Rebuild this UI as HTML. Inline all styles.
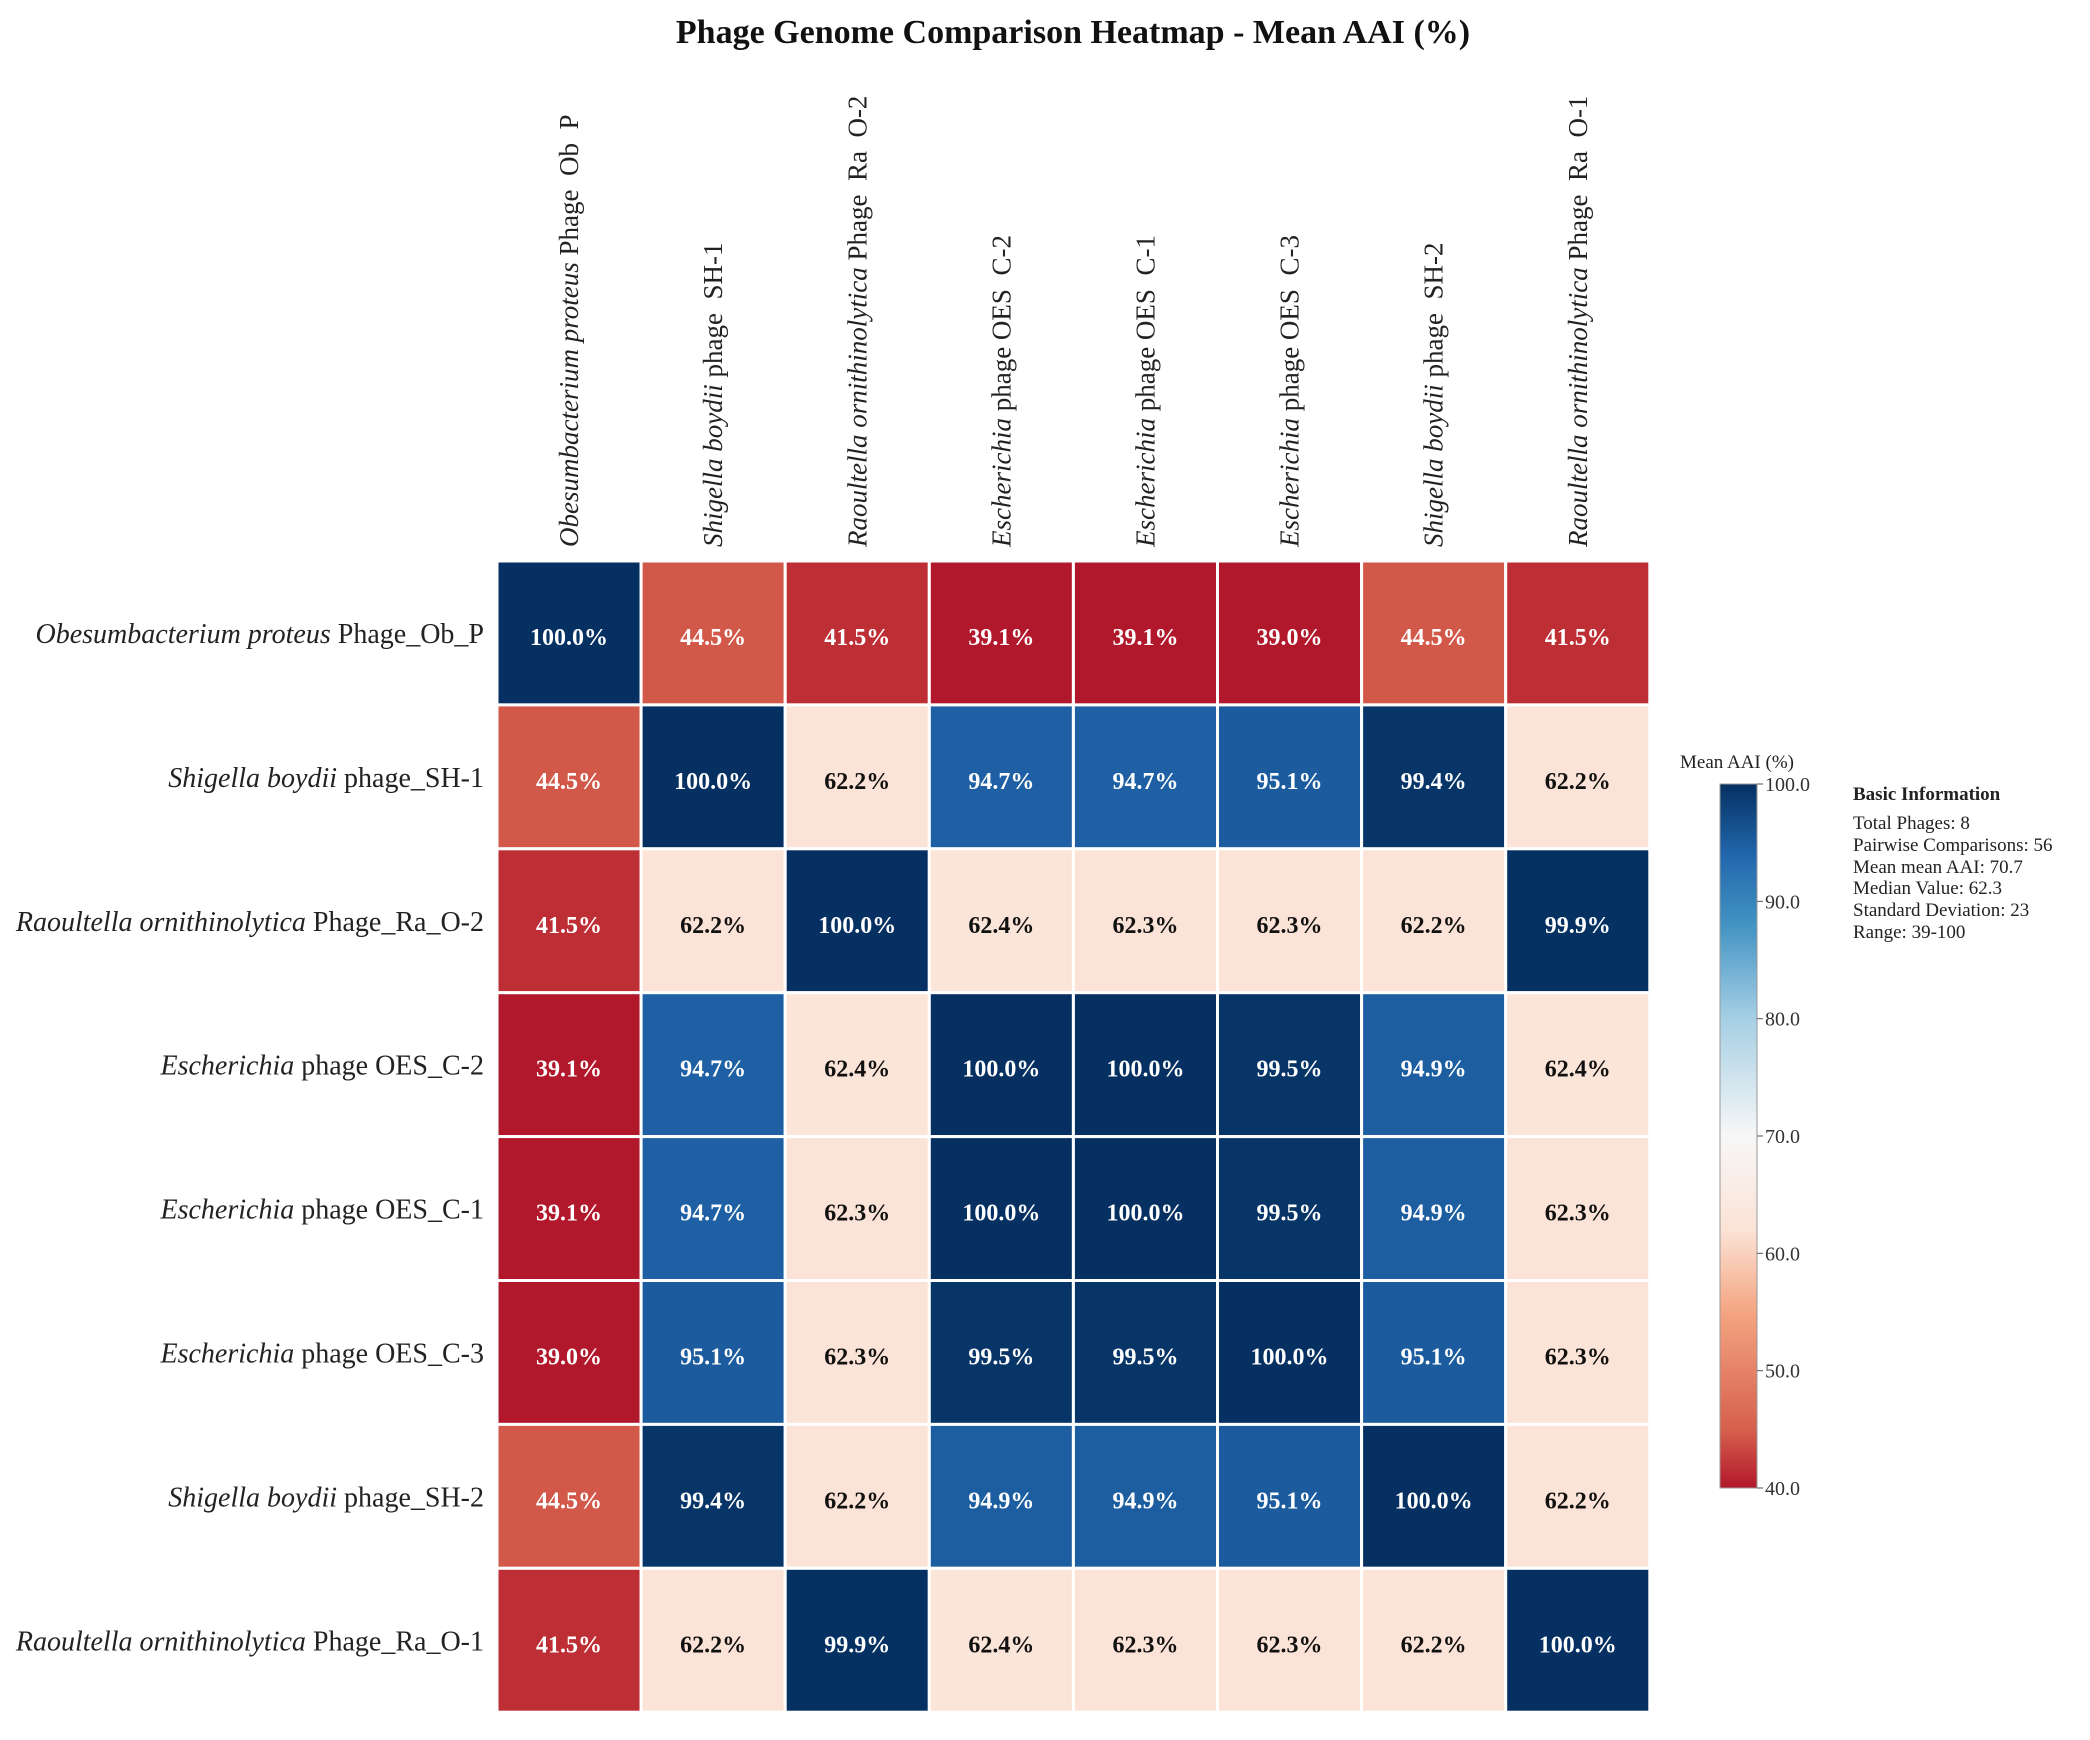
<!DOCTYPE html>
<html><head><meta charset="utf-8"><style>
html,body{margin:0;padding:0;background:#fff;}
svg{display:block;font-family:"Liberation Serif","DejaVu Serif",serif;}
.pre{white-space:pre;}
</style></head><body>
<svg id="chart" width="2090" height="1740" viewBox="0 0 2090 1740" xmlns="http://www.w3.org/2000/svg">
<text x="1073" y="43" text-anchor="middle" font-size="34" font-weight="bold" fill="#111">Phage Genome Comparison Heatmap - Mean AAI (%)</text>
<defs><linearGradient id="cbgrad" x1="0" y1="1" x2="0" y2="0"></linearGradient></defs>
<g id="cells"></g>
<g id="rowlabels"></g>
<g id="collabels"></g>
<g id="colorbar"></g>
<g font-size="19" fill="#222">
<text x="1853" y="800" font-weight="bold">Basic Information</text>
<text x="1853" y="829">Total Phages: 8</text>
<text x="1853" y="851">Pairwise Comparisons: 56</text>
<text x="1853" y="873">Mean mean AAI: 70.7</text>
<text x="1853" y="894">Median Value: 62.3</text>
<text x="1853" y="916">Standard Deviation: 23</text>
<text x="1853" y="938">Range: 39-100</text>
</g>
</svg>
<script>
const genus = ["Obesumbacterium proteus","Shigella boydii","Raoultella ornithinolytica","Escherichia","Escherichia","Escherichia","Shigella boydii","Raoultella ornithinolytica"];
const rowSuffix = ["Phage_Ob_P","phage_SH-1","Phage_Ra_O-2","phage OES_C-2","phage OES_C-1","phage OES_C-3","phage_SH-2","Phage_Ra_O-1"];
const colSuffix = ["Phage  Ob  P","phage  SH-1","Phage  Ra  O-2","phage OES  C-2","phage OES  C-1","phage OES  C-3","phage  SH-2","Phage  Ra  O-1"];
const values = [
 [100.0,44.5,41.5,39.1,39.1,39.0,44.5,41.5],
 [44.5,100.0,62.2,94.7,94.7,95.1,99.4,62.2],
 [41.5,62.2,100.0,62.4,62.3,62.3,62.2,99.9],
 [39.1,94.7,62.4,100.0,100.0,99.5,94.9,62.4],
 [39.1,94.7,62.3,100.0,100.0,99.5,94.9,62.3],
 [39.0,95.1,62.3,99.5,99.5,100.0,95.1,62.3],
 [44.5,99.4,62.2,94.9,94.9,95.1,100.0,62.2],
 [41.5,62.2,99.9,62.4,62.3,62.3,62.2,100.0]
];
const cbTicks = [40,50,60,70,80,90,100];
const stopVals = [40,45,55,62,70,80,88,94,100];
const stopCols = ["#b2182b","#d6604d","#f4a582","#fbe3d6","#f7f7f7","#a6cfe4","#4393c3","#2166ac","#053061"];

const NS="http://www.w3.org/2000/svg";
const X0=497, Y0=561, CW=144.1, CH=143.9, VMIN=40, VMAX=100;
const CBX=1720, CBW=37, CBTOP=784, CBBOT=1488;
function mk(t,a,p){const e=document.createElementNS(NS,t);for(const k in a)e.setAttribute(k,a[k]);p.appendChild(e);return e;}
function hex(c){return [1,3,5].map(i=>parseInt(c.substr(i,2),16));}
function color(v){
  if(v<=stopVals[0])return stopCols[0];
  for(let i=1;i<stopVals.length;i++){if(v<=stopVals[i]){const t=(v-stopVals[i-1])/(stopVals[i]-stopVals[i-1]);const a=hex(stopCols[i-1]),b=hex(stopCols[i]);return "rgb("+a.map((x,j)=>Math.round(x+(b[j]-x)*t)).join(",")+")";}}
  return stopCols[stopCols.length-1];
}
const xPos=j=>X0+j*CW, yPos=i=>Y0+i*CH;
const cells=document.getElementById('cells');
values.forEach((row,i)=>row.forEach((v,j)=>{
  const r=mk('rect',{x:xPos(j),y:yPos(i),width:CW,height:CH,fill:color(v),stroke:'#fff','stroke-width':3},cells);
  
  
  const t=mk('text',{x:xPos(j)+CW/2,y:yPos(i)+CH/2+12,'text-anchor':'middle','font-size':24,'font-weight':'bold',fill:(v<50||v>85)?'#fff':'#111'},cells);
  t.textContent=v.toFixed(1)+'%';
  
  
}));
const rl=document.getElementById('rowlabels');
genus.forEach((g,i)=>{
  const t=mk('text',{x:484,y:yPos(i)+CH/2+10,'text-anchor':'end','font-size':28,fill:'#222'},rl);
  
  
  const a=mk('tspan',{'font-style':'italic'},t);a.textContent=g;
  const b=mk('tspan',{},t);b.textContent=' '+rowSuffix[i];
});
const cl=document.getElementById('collabels');
genus.forEach((g,j)=>{
  const cx=xPos(j)+CW/2+9;
  const t=mk('text',{x:0,y:0,transform:'translate('+cx+',547) rotate(-90)','font-size':27,fill:'#222','class':'pre'},cl);
  
  
  const a=mk('tspan',{'font-style':'italic'},t);a.textContent=g;
  const b=mk('tspan',{},t);b.textContent=' '+colSuffix[j];
});
const grad=document.getElementById('cbgrad');
stopVals.forEach((v,k)=>{mk('stop',{offset:((v-VMIN)/(VMAX-VMIN)),'stop-color':stopCols[k]},grad);});
const cb=document.getElementById('colorbar');
const cbr=mk('rect',{x:CBX,y:CBTOP,width:CBW,height:CBBOT-CBTOP,fill:'url(#cbgrad)',stroke:'#999','stroke-width':1},cb);


const lab=mk('text',{x:1737,y:768,'text-anchor':'middle','font-size':19,fill:'#222'},cb);
lab.textContent='Mean AAI (%)';


const cbY=v=>CBBOT-(v-VMIN)/(VMAX-VMIN)*(CBBOT-CBTOP);
cbTicks.forEach(v=>{
  mk('line',{x1:CBX+CBW,x2:CBX+CBW+6,y1:cbY(v),y2:cbY(v),stroke:'#555','stroke-width':1},cb);
  const t=mk('text',{x:CBX+CBW+8,y:cbY(v)+7,'font-size':20,fill:'#333'},cb);
  t.textContent=v.toFixed(1);
  
  
});
</script>
</body></html>
